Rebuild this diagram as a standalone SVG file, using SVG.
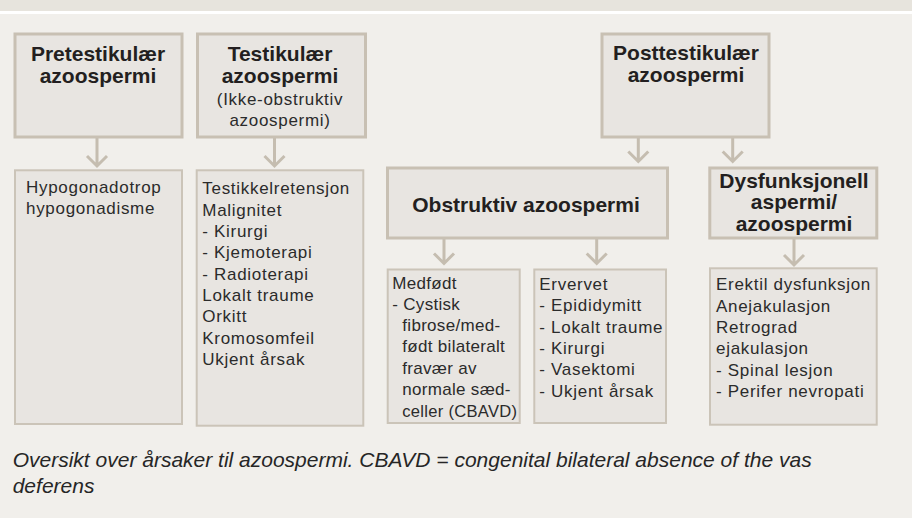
<svg xmlns="http://www.w3.org/2000/svg" width="912" height="518" viewBox="0 0 912 518">
<style>
.box{fill:#e8e5e1;stroke:#c8c0b3;stroke-width:3}
.sub{fill:#e8e5e1;stroke:#cbc4b8;stroke-width:2}
.t{font-family:"Liberation Sans",Arial,sans-serif;font-weight:bold;font-size:21px;fill:#231f20;text-anchor:middle}
.b{font-family:"Liberation Sans",Arial,sans-serif;font-size:17px;fill:#2b2b2b;letter-spacing:0.7px}
.m{text-anchor:middle}
.tight{letter-spacing:0.3px}
.cap{font-family:"Liberation Sans",Arial,sans-serif;font-style:italic;font-size:21px;fill:#262626}
.arr{stroke:#c5bdb0;stroke-width:3;fill:none}
</style>
<rect x="0" y="0" width="912" height="518" fill="#f1efeb"/>
<rect x="0" y="0" width="912" height="11" fill="#e7e4dd"/>
<rect x="0" y="11" width="912" height="3" fill="#ffffff"/>

<g id="connectors">
<path class="arr" d="M97,138 V166 M87,156 L97,166 L107,156"/>
<path class="arr" d="M274.5,138 V166 M264.5,156 L274.5,166 L284.5,156"/>
<path class="arr" d="M638.3,138 V161.5 M628.3,151.5 L638.3,161.5 L648.3,151.5"/>
<path class="arr" d="M732.7,138 V161.5 M722.7,151.5 L732.7,161.5 L742.7,151.5"/>
<path class="arr" d="M444,239 V263.5 M434,253.5 L444,263.5 L454,253.5"/>
<path class="arr" d="M596.7,239 V263.5 M586.7,253.5 L596.7,263.5 L606.7,253.5"/>
<path class="arr" d="M794,239 V265 M784,255 L794,265 L804,255"/>
</g>

<g id="pretestikulaer">
<rect class="box" x="15" y="34" width="167" height="103"/>
<text class="t" x="98" y="61">Pretestikulær</text>
<text class="t" x="98" y="82.8">azoospermi</text>
</g>

<g id="testikulaer">
<rect class="box" x="197.5" y="34" width="168" height="103"/>
<text class="t" x="280" y="61">Testikulær</text>
<text class="t" x="280" y="82.8">azoospermi</text>
<text class="b m" x="280" y="104.5">(Ikke-obstruktiv</text>
<text class="b m" x="280" y="125.5">azoospermi)</text>
</g>

<g id="posttestikulaer">
<rect class="box" x="602" y="34" width="167" height="103"/>
<text class="t" x="686" y="60">Posttestikulær</text>
<text class="t" x="686" y="81.8">azoospermi</text>
</g>

<g id="obstruktiv">
<rect class="box" x="387.5" y="168" width="280" height="70"/>
<text class="t" x="526" y="211.5">Obstruktiv azoospermi</text>
</g>

<g id="dysfunksjonell">
<rect class="box" x="709.8" y="168" width="167" height="70"/>
<text class="t" x="794" y="187.7">Dysfunksjonell</text>
<text class="t" x="794" y="209.3">aspermi/</text>
<text class="t" x="794" y="231">azoospermi</text>
</g>

<g id="pretest-causes">
<rect class="sub" x="15" y="170.3" width="167" height="253.7"/>
<text class="b" x="26" y="192.5">Hypogonadotrop</text>
<text class="b" x="26" y="213.8">hypogonadisme</text>
</g>

<g id="testikulaer-causes">
<rect class="sub" x="196.7" y="170.3" width="166.6" height="255.4"/>
<text class="b" x="202.3" y="194.3">Testikkelretensjon</text>
<text class="b" x="202.3" y="215.7">Malignitet</text>
<text class="b" x="202.3" y="237">- Kirurgi</text>
<text class="b" x="202.3" y="258.3">- Kjemoterapi</text>
<text class="b" x="202.3" y="279.7">- Radioterapi</text>
<text class="b" x="202.3" y="301">Lokalt traume</text>
<text class="b" x="202.3" y="322.3">Orkitt</text>
<text class="b" x="202.3" y="343.7">Kromosomfeil</text>
<text class="b" x="202.3" y="365">Ukjent årsak</text>
</g>

<g id="medfodt">
<rect class="sub" x="387.7" y="269.5" width="132" height="153.5"/>
<text class="b tight" x="392.3" y="288.5">Medfødt</text>
<text class="b tight" x="392.3" y="309.8">- Cystisk</text>
<text class="b tight" x="402.3" y="331.1">fibrose/med-</text>
<text class="b tight" x="402.3" y="352.4">født bilateralt</text>
<text class="b tight" x="402.3" y="373.7">fravær av</text>
<text class="b tight" x="402.3" y="395">normale sæd-</text>
<text class="b tight" x="402.3" y="416.5" textLength="115" lengthAdjust="spacingAndGlyphs">celler (CBAVD)</text>
</g>

<g id="ervervet">
<rect class="sub" x="534.3" y="269.5" width="131.7" height="153.5"/>
<text class="b" x="539.3" y="289.5">Ervervet</text>
<text class="b" x="539.3" y="311">- Epididymitt</text>
<text class="b" x="539.3" y="332.5">- Lokalt traume</text>
<text class="b" x="539.3" y="354">- Kirurgi</text>
<text class="b" x="539.3" y="375.3">- Vasektomi</text>
<text class="b" x="539.3" y="396.7">- Ukjent årsak</text>
</g>

<g id="dysfunksjonell-causes">
<rect class="sub" x="710" y="268.3" width="166.7" height="156.4"/>
<text class="b" x="716" y="290">Erektil dysfunksjon</text>
<text class="b" x="716" y="311.5">Anejakulasjon</text>
<text class="b" x="716" y="332.8">Retrograd</text>
<text class="b" x="716" y="354.2">ejakulasjon</text>
<text class="b" x="716" y="375.6">- Spinal lesjon</text>
<text class="b" x="716" y="397">- Perifer nevropati</text>
</g>

<g id="caption">
<text class="cap" x="12.7" y="467">Oversikt over årsaker til azoospermi. CBAVD = congenital bilateral absence of the vas</text>
<text class="cap" x="12.7" y="492.7">deferens</text>
</g>
</svg>
